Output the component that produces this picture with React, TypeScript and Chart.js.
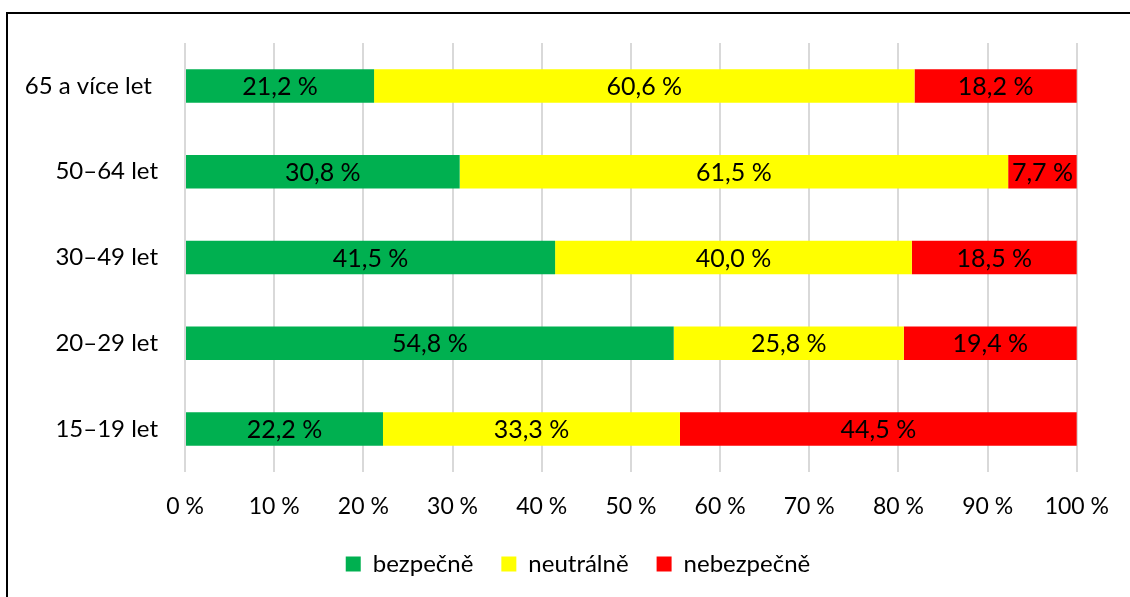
import React, { useEffect, useRef } from "react";
import { Chart, registerables } from "chart.js";

Chart.register(...registerables);

const categories = ["65 a více let ", "50–64 let", "30–49 let", "20–29 let", "15–19 let"];
const seriesNames = ["bezpečně", "neutrálně", "nebezpečně"];
const safeValues = [21.2, 30.8, 41.5, 54.8, 22.2];
const neutralValues = [60.6, 61.5, 40.0, 25.8, 33.3];
const unsafeValues = [18.2, 7.7, 18.5, 19.4, 44.5];
const seriesColors = ["#00B050", "#FFFF00", "#FF0000"];
const xTicks = [0, 10, 20, 30, 40, 50, 60, 70, 80, 90, 100];

const FONT = "Lato, 'Open Sans', sans-serif";

const fmt = (v: number) => v.toFixed(1).replace(".", ",") + " %";

const dataLabelPlugin = {
  id: "dataLabels",
  afterDatasetsDraw(chart: any) {
    const ctx = chart.ctx;
    ctx.save();
    ctx.font = `25px ${FONT}`;
    ctx.fillStyle = "#000";
    ctx.textAlign = "center";
    ctx.textBaseline = "middle";
    chart.data.datasets.forEach((ds: any, di: number) => {
      const meta = chart.getDatasetMeta(di);
      meta.data.forEach((el: any, i: number) => {
        const cx = (el.x + el.base) / 2;
        ctx.fillText(fmt(ds.data[i]), cx, el.y + 1);
      });
    });
    ctx.restore();
  },
};

const legendShiftPlugin = {
  id: "legendShift",
  afterLayout(chart: any) {
    if (chart.legend) {
      chart.legend.left += 39;
      chart.legend.right += 39;
    }
  },
};

export default function App() {
  const ref = useRef<HTMLCanvasElement>(null);
  useEffect(() => {
    if (!ref.current) return;
    const values = [safeValues, neutralValues, unsafeValues];
    const chart = new Chart(ref.current, {
      type: "bar",
      data: {
        labels: categories,
        datasets: seriesNames.map((name, i) => ({
          label: name,
          data: values[i],
          backgroundColor: seriesColors[i],
          borderWidth: 0,
          categoryPercentage: 1,
          barPercentage: 0.39,
        })),
      },
      options: {
        indexAxis: "y",
        animation: false,
        responsive: false,
        maintainAspectRatio: false,
        layout: { padding: { left: 0, right: 52, top: 43, bottom: 11 } },
        scales: {
          x: {
            stacked: true,
            min: 0,
            max: 100,
            afterBuildTicks: (scale: any) => {
              scale.ticks = xTicks.map((v) => ({ value: v }));
            },
            ticks: {
              callback: (v: any) => v + " %",
              color: "#000",
              font: { family: FONT, size: 23 },
              padding: 21,
              maxRotation: 0,
              autoSkip: false,
            },
            grid: { color: "#D9D9D9", lineWidth: 2, drawTicks: false },
            border: { display: false },
            afterFit: (scale: any) => {
              scale.height = 52;
            },
          },
          y: {
            stacked: true,
            ticks: {
              color: "#000",
              font: { family: FONT, size: 24 },
              padding: 27,
            },
            grid: { display: false, drawTicks: false },
            border: { display: false },
            afterFit: (scale: any) => {
              scale.width = 185;
            },
          },
        },
        plugins: {
          legend: {
            position: "bottom",
            labels: {
              color: "#000",
              font: { family: FONT, size: 24 },
              boxWidth: 15,
              boxHeight: 15,
              padding: 28,
            },
          },
          tooltip: { enabled: false },
        },
      },
      plugins: [dataLabelPlugin, legendShiftPlugin],
    });
    return () => chart.destroy();
  }, []);

  return (
    <div style={{ position: "fixed", left: 0, top: 0, width: 1130, height: 597, overflow: "hidden", background: "#fff" }}>
      <div
        style={{
          position: "absolute",
          left: 6,
          top: 12,
          width: 2000,
          height: 2000,
          border: "2px solid #000",
        }}
      />
      <canvas ref={ref} width={1130} height={597} style={{ position: "absolute", left: 0, top: 0 }} />
    </div>
  );
}
